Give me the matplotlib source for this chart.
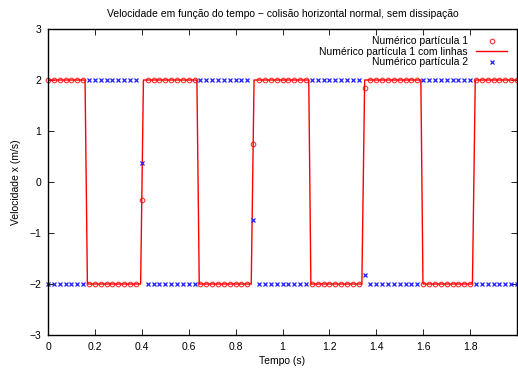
import numpy as np
import matplotlib
matplotlib.use('Agg')
import matplotlib.pyplot as plt

plt.rcParams['font.family'] = ['Liberation Sans', 'DejaVu Sans']

# sample times (step 0.025 s)
t = np.linspace(0, 2, 81)

p1 = [2, 2, 2, 2, 2, 2, 2,
      -2, -2, -2, -2, -2, -2, -2, -2, -2, -0.35,
      2, 2, 2, 2, 2, 2, 2, 2, 2,
      -2, -2, -2, -2, -2, -2, -2, -2, -2, 0.75,
      2, 2, 2, 2, 2, 2, 2, 2, 2,
      -2, -2, -2, -2, -2, -2, -2, -2, -2, 1.85,
      2, 2, 2, 2, 2, 2, 2, 2, 2,
      -2, -2, -2, -2, -2, -2, -2, -2, -2,
      2, 2, 2, 2, 2, 2, 2, 2]

p2 = [-2, -2, -2, -2, -2, -2, -2,
      2, 2, 2, 2, 2, 2, 2, 2, 2, 0.37,
      -2, -2, -2, -2, -2, -2, -2, -2, -2,
      2, 2, 2, 2, 2, 2, 2, 2, 2, -0.75,
      -2, -2, -2, -2, -2, -2, -2, -2, -2,
      2, 2, 2, 2, 2, 2, 2, 2, 2, -1.82,
      -2, -2, -2, -2, -2, -2, -2, -2, -2,
      2, 2, 2, 2, 2, 2, 2, 2, 2,
      -2, -2, -2, -2, -2, -2, -2, -2]

# corners of the fine-resolution line for particle 1
line_t = [0, 0.158, 0.168, 0.395, 0.407, 0.635, 0.645, 0.8667, 0.8787,
          1.112, 1.121, 1.3384, 1.3504, 1.590, 1.599, 1.810, 1.822, 2.0]
line_v = [2, 2, -2, -2, 2, 2, -2, -2, 2,
          2, -2, -2, 2, 2, -2, -2, 2, 2]

fig = plt.figure(figsize=(5.18, 3.69), dpi=100)
ax = fig.add_axes([48/518, 34/369, 469/518, 306/369])

ax.plot(t, p1, 'o', mfc='none', mec='#ff3030', ms=3.3, mew=0.8,
        label='Numérico partícula 1', clip_on=False)
ax.plot(line_t, line_v, '-', color='#ff0000', lw=1.0,
        label='Numérico partícula 1 com linhas')
ax.plot(t, p2, 'x', color='#2020ff', ms=3.5, mew=0.9,
        label='Numérico partícula 2', clip_on=False)

ax.set_xlim(0, 2)
ax.set_ylim(-3, 3)
ax.set_xticks(np.arange(0, 1.81, 0.2))
ax.set_xticklabels(['0', '0.2', '0.4', '0.6', '0.8', '1', '1.2', '1.4', '1.6', '1.8'])
ax.set_yticks(range(-3, 4))
ax.tick_params(direction='in', top=True, right=True, length=4, width=0.6,
               labelsize=7.5, pad=5)
for s in ax.spines.values():
    s.set_linewidth(1.0)

ax.set_xlabel('Tempo (s)', fontsize=7.5, labelpad=3)
ax.set_ylabel('Velocidade x (m/s)', fontsize=7.5, labelpad=6)
ax.set_title('Velocidade em função do tempo − colisão horizontal normal, sem dissipação',
             fontsize=7.5, pad=9)

ax.legend(loc='upper right', bbox_to_anchor=(0.995, 1.0), frameon=False,
          markerfirst=False, fontsize=7.5, handlelength=3.0,
          labelspacing=0.05, borderaxespad=0.3, handletextpad=0.8)

fig.savefig('out.png', dpi=100)
